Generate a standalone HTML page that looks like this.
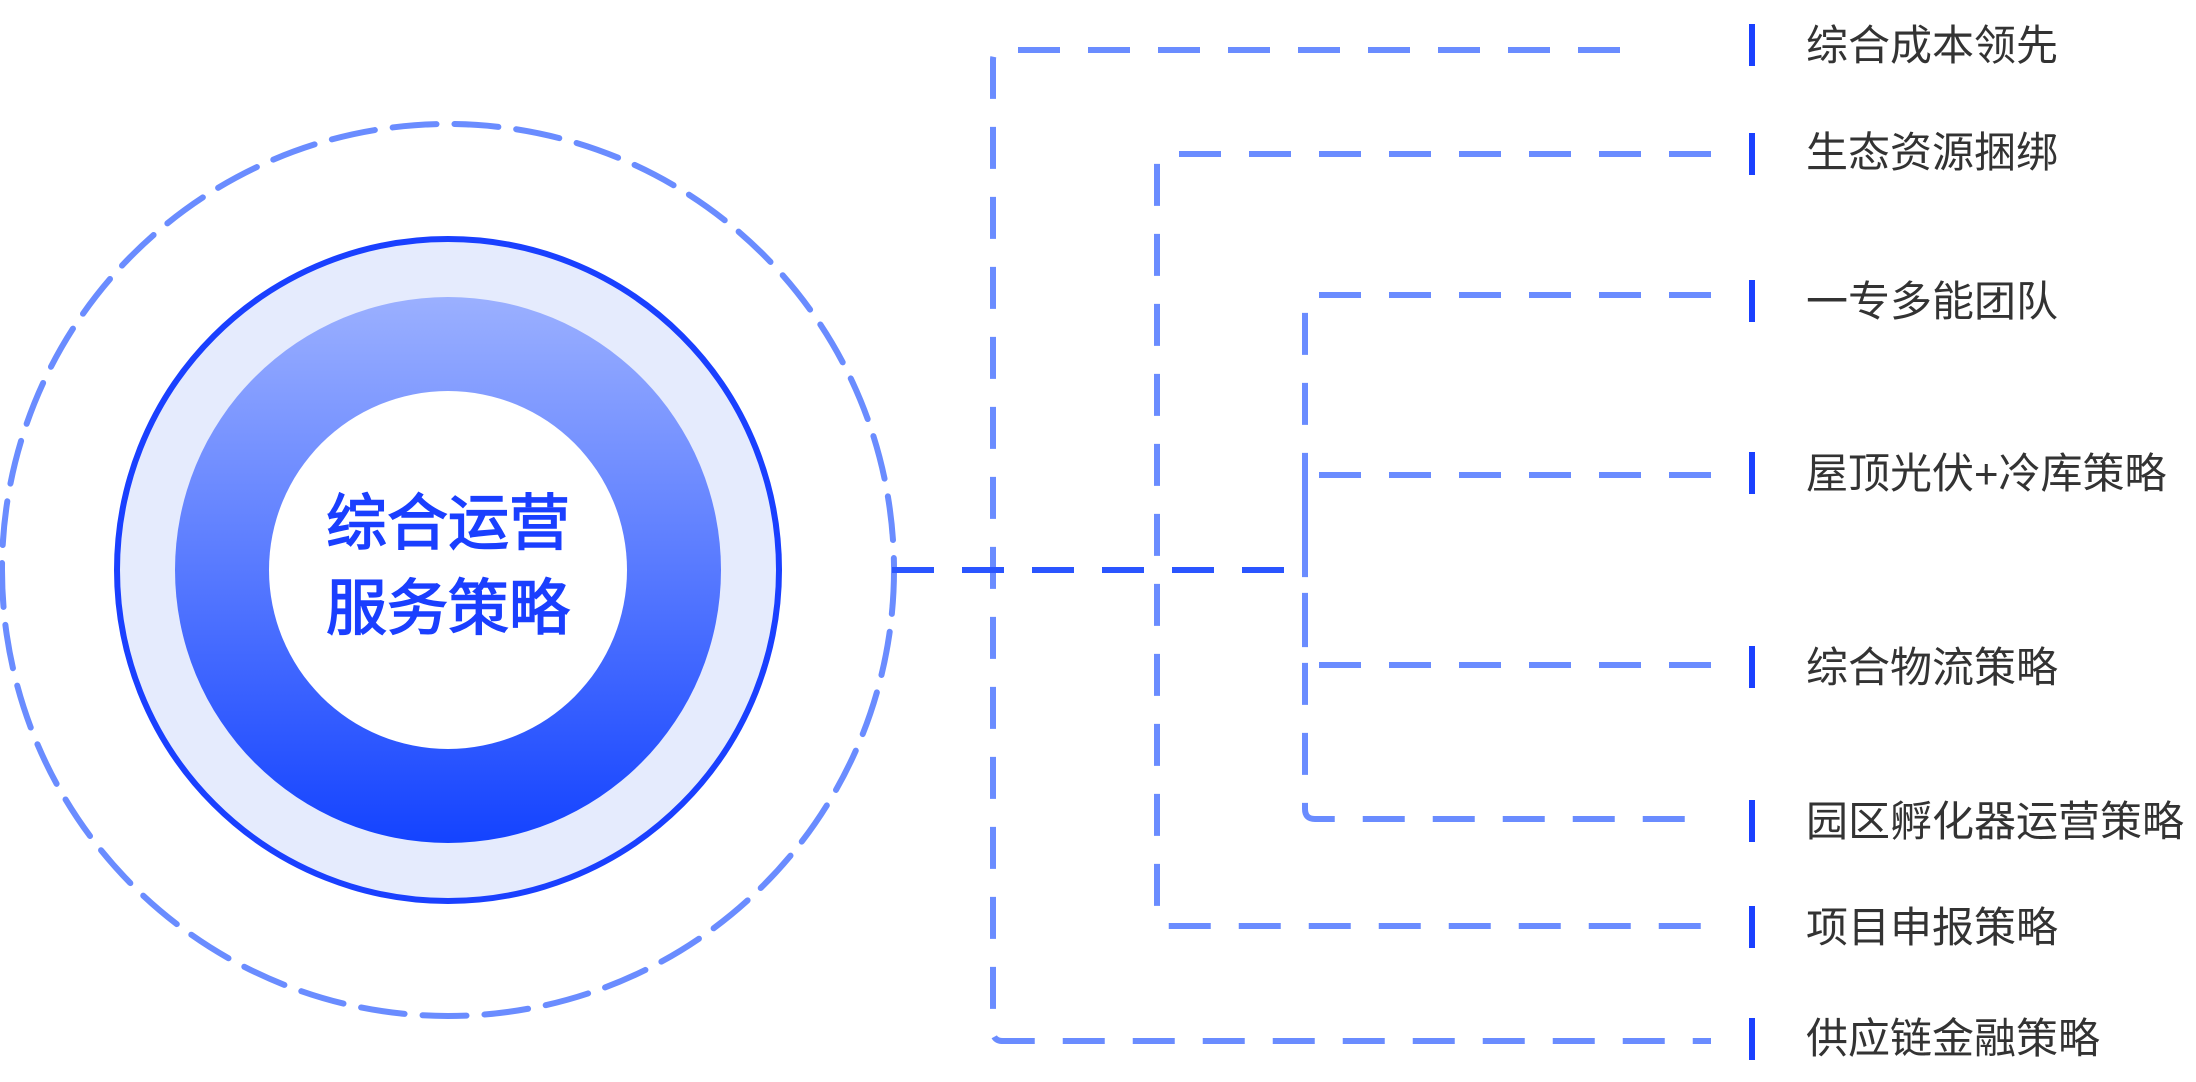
<!DOCTYPE html>
<html><head><meta charset="utf-8"><style>
html,body{margin:0;padding:0;background:#fff;}
svg{display:block;}
</style></head><body>
<svg width="2196" height="1082" viewBox="0 0 2196 1082" xmlns="http://www.w3.org/2000/svg">
<defs>
<linearGradient id="g" x1="0" y1="0" x2="0" y2="1">
<stop offset="0" stop-color="#9bb0ff"/>
<stop offset="1" stop-color="#1443ff"/>
</linearGradient>
</defs>
<circle cx="448" cy="570" r="446" fill="none" stroke="#6a8cff" stroke-width="6" stroke-dasharray="44 18" stroke-linecap="round"/>
<circle cx="448" cy="570" r="331" fill="#e5ebfd" stroke="#1a40ff" stroke-width="6"/>
<circle cx="448" cy="570" r="273" fill="url(#g)"/>
<circle cx="448" cy="570" r="179" fill="#fff"/>
<g font-family="Liberation Sans, Noto Sans CJK SC, sans-serif" font-size="61" fill="#1a3fff" stroke="#1a3fff" stroke-width="1.5" text-anchor="middle">
<text x="448" y="544">综合运营</text>
<text x="448" y="629">服务策略</text>
</g>
<g fill="none" stroke="#6a8cff" stroke-width="6" stroke-dasharray="42 28">
<path d="M1620,50 H1003 Q993,50 993,60 V1031 Q993,1041 1003,1041 H1711"/>
<path d="M1711,154 H1167 Q1157,154 1157,164 V916 Q1157,926 1167,926 H1711"/>
<path d="M1711,295 H1315 Q1305,295 1305,305 V809 Q1305,819 1315,819 H1711"/>
<path d="M1711,475 H1315 Q1305,475 1305,485 V570"/>
<path d="M1711,665 H1315 Q1305,665 1305,655 V570"/>
</g>
<line x1="892" y1="570" x2="1305" y2="570" stroke="#2a55ff" stroke-width="6" stroke-dasharray="42 28"/>
<g fill="#1a40ff">
<rect x="1749" y="24" width="6" height="42"/>
<rect x="1749" y="133" width="6" height="42"/>
<rect x="1749" y="280" width="6" height="42"/>
<rect x="1749" y="452" width="6" height="42"/>
<rect x="1749" y="646" width="6" height="42"/>
<rect x="1749" y="800" width="6" height="42"/>
<rect x="1749" y="906" width="6" height="42"/>
<rect x="1749" y="1018" width="6" height="42"/>
</g>
<g font-family="Liberation Sans, Noto Sans CJK SC, sans-serif" font-size="42" fill="#333">
<text x="1806" y="60">综合成本领先</text>
<text x="1806" y="167">生态资源捆绑</text>
<text x="1806" y="316">一专多能团队</text>
<text x="1806" y="488">屋顶光伏+冷库策略</text>
<text x="1806" y="682">综合物流策略</text>
<text x="1806" y="836">园区孵化器运营策略</text>
<text x="1806" y="942">项目申报策略</text>
<text x="1806" y="1053">供应链金融策略</text>
</g>
</svg>
</body></html>
